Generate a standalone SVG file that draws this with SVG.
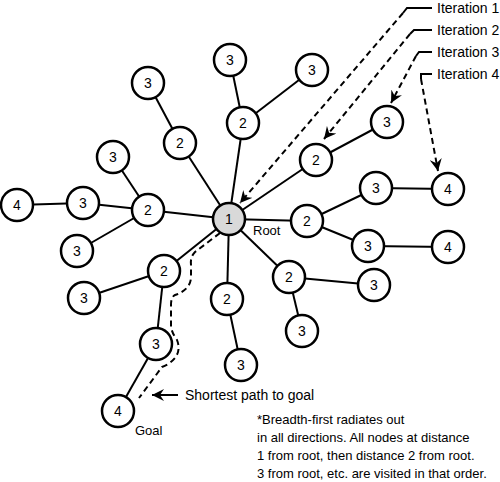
<svg xmlns="http://www.w3.org/2000/svg" width="500" height="482" viewBox="0 0 500 482">
<style>
.e{stroke:#000;stroke-width:2;fill:none}
.d{stroke:#000;stroke-width:2;fill:none;stroke-dasharray:6,4}
.s{stroke:#000;stroke-width:2;fill:none}
.n circle{fill:#fff;stroke:#000;stroke-width:2.5}
.n text,.t{font-family:"Liberation Sans",Arial,sans-serif;font-size:13px;fill:#000}
.n text{text-anchor:middle;font-size:14px}
.b{font-size:14px}
</style>
<defs>
<marker id="ah" markerWidth="14" markerHeight="12" refX="12" refY="6" orient="auto" markerUnits="userSpaceOnUse">
<path d="M0,0 L12,6 L0,12 L4,6 Z" fill="#000"/>
</marker>
</defs>
<rect width="500" height="482" fill="#fff"/>
<g id="connectors">
<line class="e" x1="229" y1="219" x2="243" y2="123"/>
<line class="e" x1="243" y1="123" x2="230" y2="60"/>
<line class="e" x1="243" y1="123" x2="312" y2="70"/>
<line class="e" x1="229" y1="219" x2="180" y2="143"/>
<line class="e" x1="180" y1="143" x2="148" y2="83"/>
<line class="e" x1="229" y1="219" x2="316" y2="160"/>
<line class="e" x1="316" y1="160" x2="387" y2="122"/>
<line class="e" x1="229" y1="219" x2="148" y2="210"/>
<line class="e" x1="148" y1="210" x2="113" y2="157"/>
<line class="e" x1="148" y1="210" x2="83" y2="203"/>
<line class="e" x1="83" y1="203" x2="17" y2="205"/>
<line class="e" x1="148" y1="210" x2="77" y2="251"/>
<line class="e" x1="229" y1="219" x2="307" y2="221"/>
<line class="e" x1="307" y1="221" x2="376" y2="188"/>
<line class="e" x1="376" y1="188" x2="448" y2="189"/>
<line class="e" x1="307" y1="221" x2="368" y2="246"/>
<line class="e" x1="368" y1="246" x2="448" y2="247"/>
<line class="e" x1="229" y1="219" x2="289" y2="277"/>
<line class="e" x1="289" y1="277" x2="374" y2="285"/>
<line class="e" x1="289" y1="277" x2="302" y2="331"/>
<line class="e" x1="229" y1="219" x2="227" y2="299"/>
<line class="e" x1="227" y1="299" x2="241" y2="365"/>
<line class="e" x1="229" y1="219" x2="164" y2="271"/>
<line class="e" x1="164" y1="271" x2="84" y2="298"/>
<line class="e" x1="164" y1="271" x2="156" y2="344"/>
<line class="e" x1="156" y1="344" x2="118" y2="411"/>
<polyline class="s" points="432,8 407,8 403,13"/>
<line class="d" x1="403" y1="13" x2="240" y2="203" marker-end="url(#ah)"/>
<polyline class="s" points="432,30 414,30 410,34"/>
<line class="d" x1="410" y1="34" x2="324" y2="139" marker-end="url(#ah)"/>
<polyline class="s" points="432,52 419,52 416,56"/>
<line class="d" x1="416" y1="56" x2="391" y2="103" marker-end="url(#ah)"/>
<polyline class="s" points="432,74 421,74 421,79"/>
<line class="d" x1="421" y1="79" x2="438" y2="171" marker-end="url(#ah)"/>
<path class="d" d="M220,233 L195,252 Q190,257 191,265 L191,278 Q190,290 175,295 Q171,297 171,305 L171,327 Q172,333 177,340 Q181,350 175,358 Q170,364 162,367 L139,398"/>
<line class="s" x1="178" y1="395" x2="152" y2="395" marker-end="url(#ah)"/>
</g>
<g id="n1" class="n"><circle cx="229" cy="219" r="16" style="fill:#d9d9d9"/><text x="229" y="224">1</text></g>
<g id="n2a" class="n"><circle cx="243" cy="123" r="16"/><text x="243" y="128">2</text></g>
<g id="n3a1" class="n"><circle cx="230" cy="60" r="16"/><text x="230" y="65">3</text></g>
<g id="n3a2" class="n"><circle cx="312" cy="70" r="16"/><text x="312" y="75">3</text></g>
<g id="n2b" class="n"><circle cx="180" cy="143" r="16"/><text x="180" y="148">2</text></g>
<g id="n3b" class="n"><circle cx="148" cy="83" r="16"/><text x="148" y="88">3</text></g>
<g id="n2c" class="n"><circle cx="316" cy="160" r="16"/><text x="316" y="165">2</text></g>
<g id="n3c" class="n"><circle cx="387" cy="122" r="16"/><text x="387" y="127">3</text></g>
<g id="n2d" class="n"><circle cx="148" cy="210" r="16"/><text x="148" y="215">2</text></g>
<g id="n3d1" class="n"><circle cx="113" cy="157" r="16"/><text x="113" y="162">3</text></g>
<g id="n3d2" class="n"><circle cx="83" cy="203" r="16"/><text x="83" y="208">3</text></g>
<g id="n4d" class="n"><circle cx="17" cy="205" r="16"/><text x="17" y="210">4</text></g>
<g id="n3d3" class="n"><circle cx="77" cy="251" r="16"/><text x="77" y="256">3</text></g>
<g id="n2e" class="n"><circle cx="307" cy="221" r="16"/><text x="307" y="226">2</text></g>
<g id="n3e1" class="n"><circle cx="376" cy="188" r="16"/><text x="376" y="193">3</text></g>
<g id="n4e1" class="n"><circle cx="448" cy="189" r="16"/><text x="448" y="194">4</text></g>
<g id="n3e2" class="n"><circle cx="368" cy="246" r="16"/><text x="368" y="251">3</text></g>
<g id="n4e2" class="n"><circle cx="448" cy="247" r="16"/><text x="448" y="252">4</text></g>
<g id="n2f" class="n"><circle cx="289" cy="277" r="16"/><text x="289" y="282">2</text></g>
<g id="n3f1" class="n"><circle cx="374" cy="285" r="16"/><text x="374" y="290">3</text></g>
<g id="n3f2" class="n"><circle cx="302" cy="331" r="16"/><text x="302" y="336">3</text></g>
<g id="n2g" class="n"><circle cx="227" cy="299" r="16"/><text x="227" y="304">2</text></g>
<g id="n3g" class="n"><circle cx="241" cy="365" r="16"/><text x="241" y="370">3</text></g>
<g id="n2h" class="n"><circle cx="164" cy="271" r="16"/><text x="164" y="276">2</text></g>
<g id="n3h1" class="n"><circle cx="84" cy="298" r="16"/><text x="84" y="303">3</text></g>
<g id="n3h2" class="n"><circle cx="156" cy="344" r="16"/><text x="156" y="349">3</text></g>
<g id="n4h" class="n"><circle cx="118" cy="411" r="16"/><text x="118" y="416">4</text></g>
<g id="labels">
<text class="t" x="253" y="235">Root</text>
<text class="t" x="135" y="435">Goal</text>
<text class="t b" x="437" y="13">Iteration 1</text>
<text class="t b" x="437" y="35">Iteration 2</text>
<text class="t b" x="437" y="57">Iteration 3</text>
<text class="t b" x="437" y="79">Iteration 4</text>
<text class="t b" x="185" y="400">Shortest path to goal</text>
<text class="t" x="257" y="424">*Breadth-first radiates out</text>
<text class="t" x="257" y="442">in all directions. All nodes at distance</text>
<text class="t" x="257" y="460">1 from root, then distance 2 from root.</text>
<text class="t" x="257" y="478">3 from root, etc. are visited in that order.</text>
</g>
</svg>
